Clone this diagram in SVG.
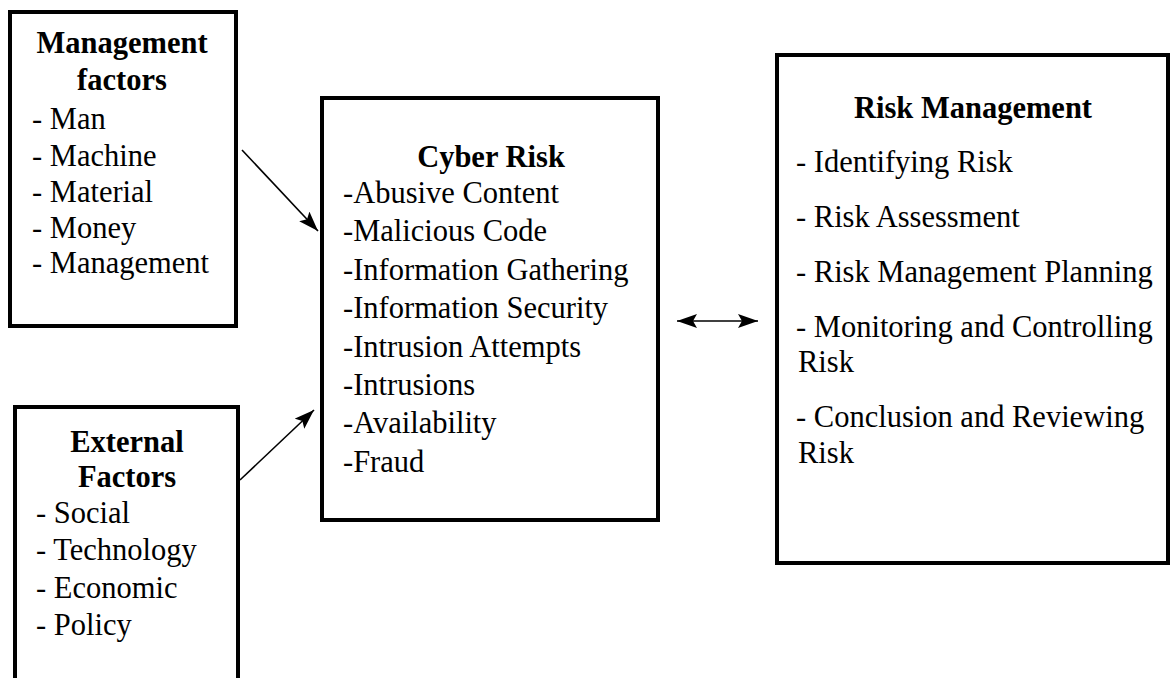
<svg xmlns="http://www.w3.org/2000/svg" width="1171" height="678" viewBox="0 0 1171 678">
<style>
.box{fill:#fff;stroke:#000;stroke-width:4}
text{font-family:"Liberation Serif","Times New Roman",serif;font-size:30.5px;fill:#000}
.t{font-weight:bold;text-anchor:middle}
.c{stroke:#000;stroke-width:1.6;fill:none}
</style>
<defs>
<marker id="ah" viewBox="0 0 20 14" refX="20" refY="7" markerWidth="20" markerHeight="14" markerUnits="userSpaceOnUse" orient="auto-start-reverse">
<path d="M0,0 L20,7 L0,14 L4,7 Z" fill="#000"/>
</marker>
</defs>
<rect width="1171" height="678" fill="#fff"/>
<g id="management-factors">
<rect class="box" x="10" y="12" width="226" height="314"/>
<text class="t" x="122" y="53">Management</text>
<text class="t" x="122" y="90">factors</text>
<text x="32" y="129">- Man</text>
<text x="32" y="166">- Machine</text>
<text x="32" y="202">- Material</text>
<text x="32" y="238">- Money</text>
<text x="32" y="273">- Management</text>
</g>
<g id="external-factors">
<rect class="box" x="15" y="407" width="223" height="290"/>
<text class="t" x="127" y="452">External</text>
<text class="t" x="127" y="487">Factors</text>
<text x="36" y="523">- Social</text>
<text x="36" y="560">- Technology</text>
<text x="36" y="598">- Economic</text>
<text x="36" y="635">- Policy</text>
</g>
<g id="cyber-risk">
<rect class="box" x="322" y="98" width="336" height="422"/>
<text class="t" x="491" y="167">Cyber Risk</text>
<text x="343" y="203">-Abusive Content</text>
<text x="343" y="241">-Malicious Code</text>
<text x="343" y="280">-Information Gathering</text>
<text x="343" y="318">-Information Security</text>
<text x="343" y="357">-Intrusion Attempts</text>
<text x="343" y="395">-Intrusions</text>
<text x="343" y="433">-Availability</text>
<text x="343" y="472">-Fraud</text>
</g>
<g id="risk-management">
<rect class="box" x="777" y="55" width="391" height="508"/>
<text class="t" x="973" y="118">Risk Management</text>
<text x="796" y="172">- Identifying Risk</text>
<text x="796" y="227">- Risk Assessment</text>
<text x="796" y="282">- Risk Management Planning</text>
<text x="796" y="337">- Monitoring and Controlling</text>
<text x="798" y="372">Risk</text>
<text x="796" y="427">- Conclusion and Reviewing</text>
<text x="798" y="463">Risk</text>
</g>
<g id="connectors">
<line class="c" x1="242" y1="150" x2="318" y2="231" marker-end="url(#ah)"/>
<line class="c" x1="240" y1="480" x2="314" y2="410" marker-end="url(#ah)"/>
<line class="c" x1="677" y1="321" x2="758" y2="321" marker-start="url(#ah)" marker-end="url(#ah)"/>
</g>
</svg>
